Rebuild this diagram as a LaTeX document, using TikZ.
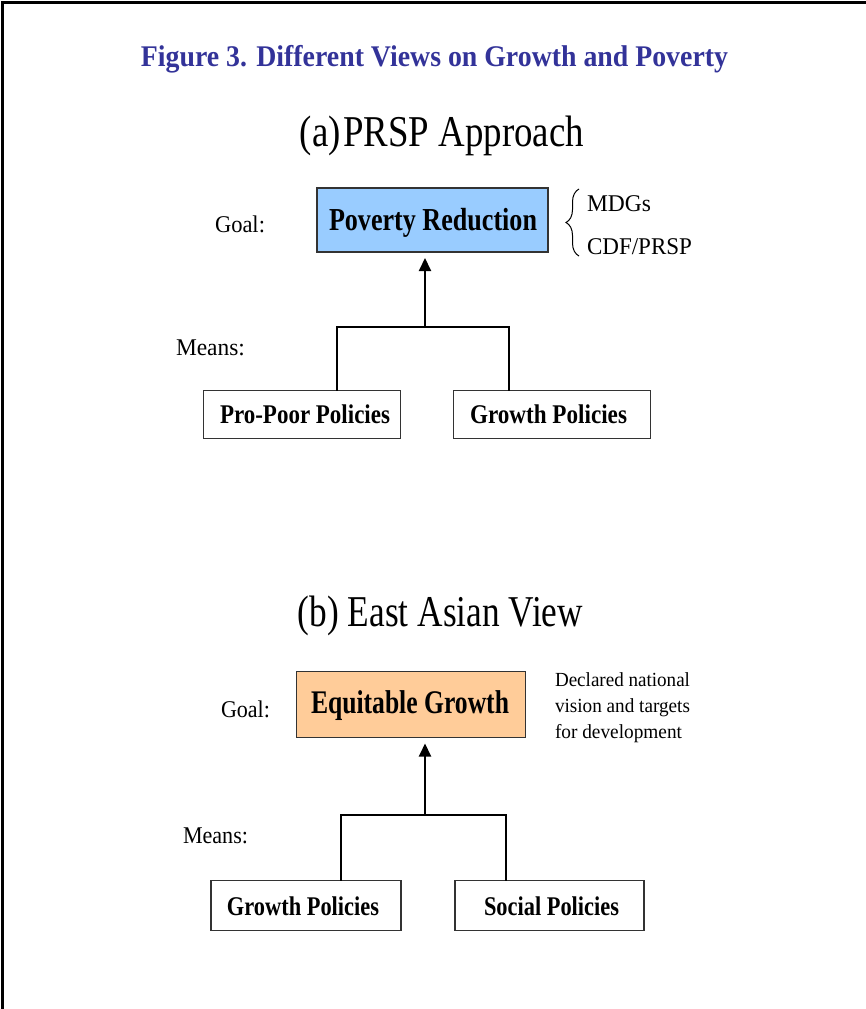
\documentclass[tikz,border=0pt]{standalone}
\usepackage{fontspec}
\setmainfont{Liberation Serif}
\usepackage{graphicx}
\usetikzlibrary{arrows.meta,decorations.pathreplacing}
\definecolor{titleblue}{HTML}{333399}
\definecolor{goalblue}{HTML}{99CCFF}
\definecolor{goalorange}{HTML}{FFCC99}
\definecolor{boxline}{HTML}{333333}
\newcommand{\fitw}[2]{\resizebox{#1}{\height}{#2}}
\newcommand{\fsz}[1]{\fontsize{#1}{#1}\selectfont}
\begin{document}
\begin{tikzpicture}[x=1pt,y=-1pt,
  every node/.style={inner sep=0pt, outer sep=0pt},
  goalbox/.style={draw=boxline, line width=1.2pt, minimum height=64pt},
  meansbox/.style={draw=boxline, line width=1.2pt, minimum height=48pt, fill=white},
  link/.style={line width=2pt},
  uparrow/.style={line width=2pt, -{Triangle[width=12pt,length=13pt]}, shorten >=6pt},
  lbl/.style={anchor=base west},
  ctr/.style={anchor=base}]
\useasboundingbox (0,0) rectangle (866,1009);
% frame
\draw[line width=3pt] (866,2.5) -- (2,2.5) -- (2,1009);
% title
\node[ctr, text=titleblue] (title) at (434.5,66) {\fitw{587pt}{\fsz{30}\bfseries Figure 3. Different Views on Growth and Poverty}};
% ---------- (a) ----------
\node[ctr] (heada) at (442,146) {\fitw{284pt}{\fsz{44}(a)\hspace{3pt}PRSP Approach}};
\node[goalbox, fill=goalblue, minimum width=231pt] (pr) at (432.5,220) {};
\node[ctr] (prt) at (433,230) {\fitw{208pt}{\fsz{32}\bfseries Poverty Reduction}};
\node[lbl] (goala) at (215,232) {\fitw{50pt}{\fsz{24}Goal:}};
\draw[line width=1pt, decorate, decoration={brace, amplitude=13pt, aspect=0.5}] (579,256) -- (579,189);
\node[lbl] (mdg) at (587,211) {\fitw{64pt}{\fsz{24}MDGs}};
\node[lbl] (cdf) at (587,254) {\fitw{105pt}{\fsz{24}CDF/PRSP}};
\node[lbl] (meansa) at (176,355) {\fitw{69pt}{\fsz{24}Means:}};
\node[meansbox, minimum width=197pt] (ppa) at (302,414.5) {};
\node[ctr] (ppat) at (305,423) {\fitw{170pt}{\fsz{27}\bfseries Pro-Poor Policies}};
\node[meansbox, minimum width=197pt] (gpa) at (552,414.5) {};
\node[ctr] (gpat) at (548.5,423) {\fitw{157pt}{\fsz{27}\bfseries Growth Policies}};
\coordinate (ja) at (425,327);
\draw[link] ([xshift=35pt]ppa.north) |- (ja);
\draw[link] ([xshift=-43pt]gpa.north) |- (ja);
\draw[uparrow] (ja) -- (ja |- pr.south);
% ---------- (b) ----------
\node[ctr] (headb) at (440.5,626) {\fitw{285pt}{\fsz{44}(b) East Asian View}};
\node[goalbox, fill=goalorange, minimum width=229pt, minimum height=66pt] (eg) at (411,704.5) {};
\node[ctr] (egt) at (410,713) {\fitw{198pt}{\fsz{33}\bfseries Equitable Growth}};
\node[lbl] (goalb) at (221,717) {\fitw{49pt}{\fsz{24}Goal:}};
\node[lbl] (decl1) at (555,686) {\fitw{135pt}{\fsz{20}Declared national}};
\node[lbl] (decl2) at (555,712) {\fitw{135pt}{\fsz{20}vision and targets}};
\node[lbl] (decl3) at (555,738) {\fitw{127pt}{\fsz{20}for development}};
\node[lbl] (meansb) at (183,843) {\fitw{65pt}{\fsz{24}Means:}};
\node[meansbox, minimum width=190pt, minimum height=50pt] (gpb) at (306,905.5) {};
\node[ctr] (gpbt) at (303,915) {\fitw{152pt}{\fsz{27}\bfseries Growth Policies}};
\node[meansbox, minimum width=189pt, minimum height=50pt] (spb) at (549.5,905.5) {};
\node[ctr] (spbt) at (551.5,915) {\fitw{135pt}{\fsz{27}\bfseries Social Policies}};
\coordinate (jb) at (425,815);
\draw[link] ([xshift=35pt]gpb.north) |- (jb);
\draw[link] ([xshift=-44pt]spb.north) |- (jb);
\draw[uparrow] (jb) -- (jb |- eg.south);
\end{tikzpicture}
\end{document}
